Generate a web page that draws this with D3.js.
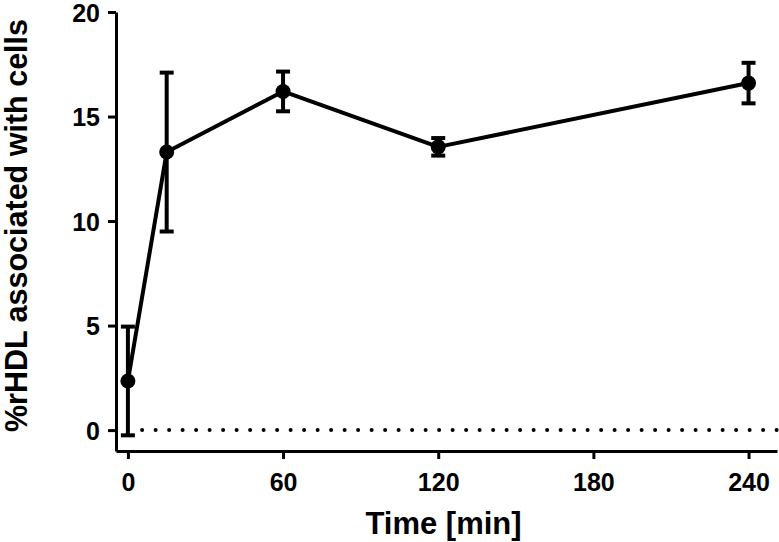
<!DOCTYPE html>
<html>
<head>
<meta charset="utf-8">
<script src="https://cdn.jsdelivr.net/npm/d3@7"></script>
<style>
  body { margin: 0; background: #fff; }
  svg text { font-family: 'Liberation Sans', Arial, sans-serif; font-weight: bold; fill: #000; }
</style>
</head>
<body>
<div id="chart"></div>
<script>
// data
const times = [0, 15, 60, 120, 240];
const means = [2.35, 13.3, 16.2, 13.55, 16.6];
const errors = [2.6, 3.8, 0.95, 0.42, 0.97];
const xTicks = [0, 60, 120, 180, 240];
const yTicks = [0, 5, 10, 15, 20];

const totalWidth = 779;
const totalHeight = 542;
const margin = { top: 12, right: 2, bottom: 91, left: 116 };
const width = totalWidth - margin.left - margin.right;
const height = totalHeight - margin.top - margin.bottom;

const svg = d3
    .select('#chart')
    .append('svg')
    .attr('width', totalWidth)
    .attr('height', totalHeight)
    .append('g')
    .attr('transform', 'translate(' + margin.left + ',' + margin.top + ')');

const x = d3.scaleLinear().domain([-4.6, 251]).range([0, width]);
const y = d3.scaleLinear().domain([-1, 20]).range([height, 0]);

// axes
const xAxis = svg
    .append('g')
    .attr('transform', 'translate(0,' + height + ')')
    .call(d3.axisBottom(x).tickValues(xTicks).tickSize(8).tickPadding(14).tickSizeOuter(0));
xAxis.select('.domain').attr('stroke-width', 3);
xAxis.selectAll('line').attr('stroke-width', 3);
xAxis.selectAll('text').attr('font-size', 25);

const yAxis = svg
    .append('g')
    .call(d3.axisLeft(y).tickValues(yTicks).tickSize(8).tickPadding(8).tickSizeOuter(0));
yAxis.select('.domain').attr('stroke-width', 3);
yAxis.selectAll('line').attr('stroke-width', 3);
yAxis.selectAll('text').attr('font-size', 25).attr('dy', '0.36em');

// dotted zero line
svg.append('line')
    .attr('x1', x(5.5))
    .attr('x2', width)
    .attr('y1', y(0))
    .attr('y2', y(0))
    .attr('stroke', '#000')
    .attr('stroke-width', 4)
    .attr('stroke-linecap', 'round')
    .attr('stroke-dasharray', '0 13.5');

const points = times.map((t, i) => ({ t: t, v: means[i], e: errors[i] }));

// main line
svg.append('path')
    .datum(points)
    .attr('fill', 'none')
    .attr('stroke', '#000')
    .attr('stroke-width', 4)
    .attr('stroke-linejoin', 'round')
    .attr('d', d3.line().x((d) => x(d.t)).y((d) => y(d.v)));

// error bars
const bars = svg.append('g').attr('stroke', '#000').attr('stroke-width', 4);
points.forEach((d) => {
    bars.append('line')
        .attr('x1', x(d.t)).attr('x2', x(d.t))
        .attr('y1', y(d.v - d.e)).attr('y2', y(d.v + d.e));
    [d.v - d.e, d.v + d.e].forEach((v) => {
        bars.append('line')
            .attr('x1', x(d.t) - 7).attr('x2', x(d.t) + 7)
            .attr('y1', y(v)).attr('y2', y(v));
    });
});

// markers
svg.append('g')
    .selectAll('circle')
    .data(points)
    .join('circle')
    .attr('cx', (d) => x(d.t))
    .attr('cy', (d) => y(d.v))
    .attr('r', 7.5)
    .attr('fill', '#000');

// axis titles
svg.append('text')
    .attr('x', width / 2 - 3)
    .attr('y', height + 83)
    .attr('text-anchor', 'middle')
    .attr('font-size', 31)
    .text('Time [min]');

svg.append('text')
    .attr('transform', 'translate(' + (-89) + ',' + (height / 2 - 6) + ') rotate(-90)')
    .attr('text-anchor', 'middle')
    .attr('font-size', 30.5)
    .text('%rHDL associated with cells');
</script>
</body>
</html>
